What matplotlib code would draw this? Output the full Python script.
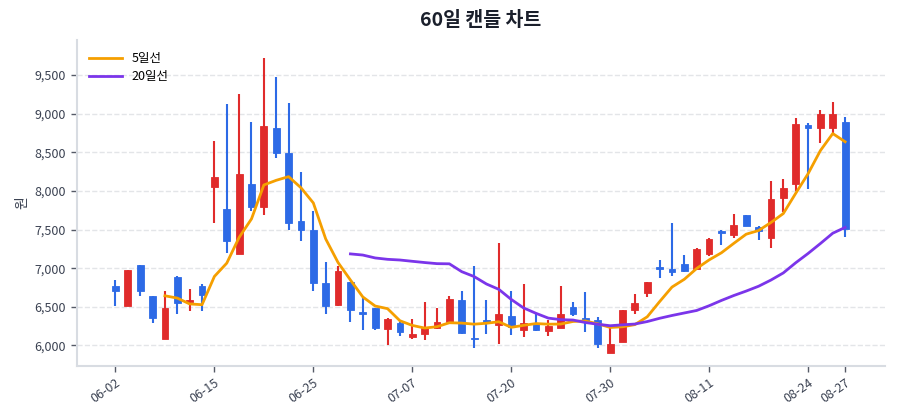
import matplotlib
matplotlib.use('Agg')
import matplotlib.pyplot as plt
from matplotlib.ticker import FuncFormatter
import numpy as np
import pandas as pd

plt.rcParams['font.family'] = ['Noto Sans CJK KR', 'DejaVu Sans']

dates = ['06-02', '06-04', '06-05', '06-08', '06-09', '06-10', '06-11', '06-12', '06-15', '06-16',
         '06-17', '06-18', '06-19', '06-22', '06-23', '06-24', '06-25', '06-26', '06-29', '06-30',
         '07-01', '07-02', '07-03', '07-06', '07-07', '07-08', '07-09', '07-10', '07-13', '07-14',
         '07-15', '07-16', '07-20', '07-21', '07-22', '07-23', '07-24', '07-27', '07-28', '07-29',
         '07-30', '07-31', '08-03', '08-04', '08-05', '08-06', '08-07', '08-10', '08-11', '08-12',
         '08-13', '08-14', '08-18', '08-19', '08-20', '08-21', '08-24', '08-25', '08-26', '08-27']

opens = [6765, 6510, 7036, 6636, 6085, 6890, 6558, 6774, 8057, 7764,
         7187, 8092, 7790, 8820, 8488, 7605, 7497, 6808, 6519, 6819,
         6431, 6487, 6216, 6285, 6108, 6142, 6220, 6306, 6586, 6100,
         6328, 6263, 6380, 6194, 6285, 6185, 6229, 6496, 6358, 6328,
         5905, 6044, 6454, 6679, 7016, 6995, 7059, 6990, 7185, 7479,
         7435, 7686, 7530, 7392, 7902, 8092, 8853, 8810, 8810, 8892]
highs = [6850, 6980, 7040, 6640, 6710, 6895, 6730, 6800, 8640, 9120,
         9255, 8890, 9725, 9480, 9135, 8250, 7735, 7075, 7025, 6825,
         6615, 6490, 6350, 6305, 6345, 6560, 6490, 6640, 6710, 7025,
         6585, 7330, 6705, 6800, 6400, 6330, 6775, 6565, 6690, 6370,
         6230, 6460, 6665, 6825, 7105, 7590, 7165, 7255, 7390, 7500,
         7695, 7690, 7545, 8125, 8160, 8940, 8885, 9050, 9145, 8955]
lows = [6505, 6505, 6636, 6290, 6080, 6400, 6440, 6450, 7590, 7190,
        7185, 7735, 7690, 8430, 7495, 7345, 6710, 6400, 6515, 6305,
        6200, 6195, 6000, 6120, 6085, 6070, 6215, 6300, 6150, 5970,
        6150, 6020, 6140, 6110, 6190, 6120, 6225, 6380, 6175, 5970,
        5900, 6040, 6405, 6620, 6875, 6895, 6950, 6985, 7155, 7297,
        7390, 7550, 7370, 7265, 7730, 8005, 8020, 8625, 8740, 7405]
closes = [6700, 6970, 6700, 6356, 6485, 6550, 6593, 6649, 8186, 7346,
          8217, 7790, 8845, 8488, 7583, 7497, 6808, 6515, 6959, 6453,
          6401, 6220, 6345, 6177, 6151, 6229, 6306, 6603, 6155, 6080,
          6290, 6401, 6242, 6285, 6194, 6250, 6410, 6410, 6315, 6013,
          6013, 6454, 6549, 6822, 6995, 6955, 6960, 7250, 7371, 7460,
          7565, 7552, 7487, 7889, 8040, 8870, 8820, 8991, 8991, 7509]

tick_idx = [0, 8, 16, 24, 32, 40, 48, 56, 59]

UP = '#e02b2b'
DOWN = '#2d6ae6'

x = np.arange(len(dates))
o = np.array(opens)
c = np.array(closes)
colors = [UP if cc >= oo else DOWN for oo, cc in zip(o, c)]

fig, ax = plt.subplots(figsize=(9, 4.2), dpi=100)
fig.subplots_adjust(left=0.085, right=0.983, top=0.905, bottom=0.128)

# wicks and bodies
ax.vlines(x, lows, highs, colors=colors, linewidth=1.5, zorder=2)
ax.bar(x, np.abs(c - o), bottom=np.minimum(o, c), width=0.55,
       color=colors, edgecolor=colors, linewidth=0.6, zorder=3)

# moving averages
s = pd.Series(closes)
ax.plot(x, s.rolling(5).mean(), color='#f59f00', linewidth=2, label='5일선', zorder=4)
ax.plot(x, s.rolling(20).mean(), color='#7b35ea', linewidth=2, label='20일선', zorder=4)

ax.set_xlim(-3.15, 62.2)
ax.set_ylim(5730, 9955)
ax.set_xticks(tick_idx)
ax.set_xticklabels([dates[i] for i in tick_idx], rotation=35, ha='right',
                   rotation_mode='anchor', fontsize=9, color='#3b4252')
ax.set_yticks([6000, 6500, 7000, 7500, 8000, 8500, 9000, 9500])
ax.yaxis.set_major_formatter(FuncFormatter(lambda v, p: f'{int(v):,}'))
ax.tick_params(axis='y', labelsize=9, labelcolor='#3b4252')
ax.tick_params(axis='both', color='#555a66', length=4, width=1)

ax.grid(axis='y', linestyle='--', color='#e3e5e8', linewidth=1)
ax.set_axisbelow(True)
for side in ['top', 'right']:
    ax.spines[side].set_visible(False)
for side in ['left', 'bottom']:
    ax.spines[side].set_color('#d8dce2')
    ax.spines[side].set_linewidth(1.5)

ax.set_ylabel('원', fontsize=10, color='#3b4252')
ax.set_title('60일 캔들 차트', fontsize=14, fontweight='bold', color='#1a1f2b', pad=10)
ax.legend(loc='upper left', frameon=False, fontsize=9, handlelength=2.6,
          borderaxespad=0.6, labelspacing=0.4)

plt.savefig('out.png', dpi=100)
